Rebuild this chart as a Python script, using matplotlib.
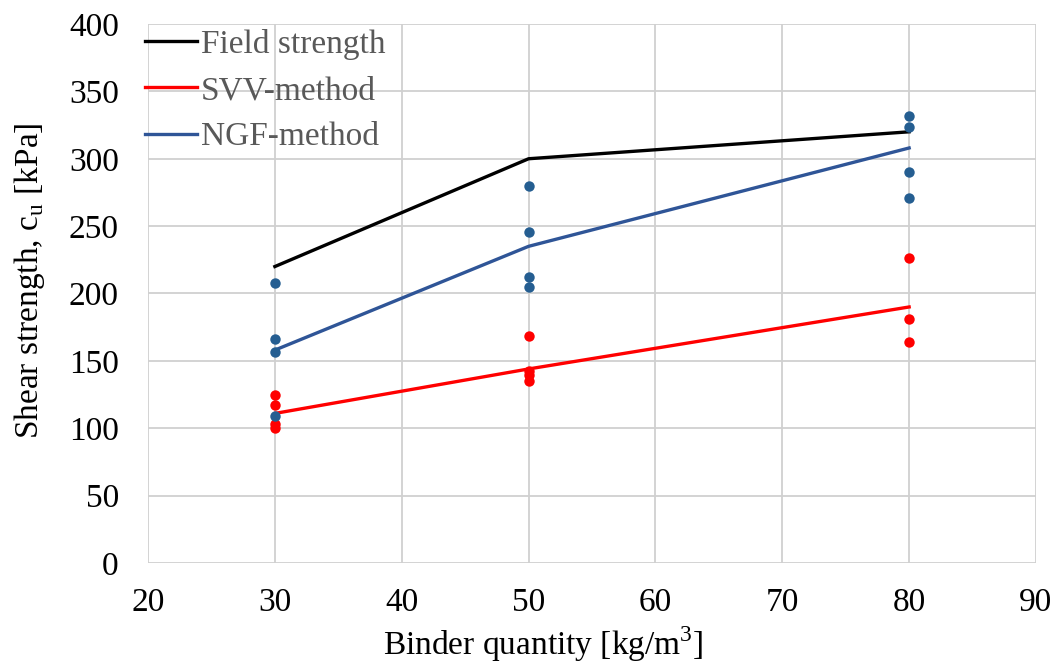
import matplotlib.pyplot as plt

plt.rcParams['font.family'] = ['Liberation Serif', 'DejaVu Serif']
plt.rcParams['mathtext.fontset'] = 'custom'
plt.rcParams['mathtext.rm'] = 'Liberation Serif'

# Mean curves
x_lines = [30, 50, 80]
field_strength = [220, 300, 320]
svv_line = [111, 144, 190]
ngf_line = [158, 235, 308]

# Individual test results
svv_x = [30, 30, 30, 30, 50, 50, 50, 50, 80, 80, 80]
svv_y = [125, 117.5, 103, 100, 168.5, 142.5, 139.5, 135, 226, 181, 164]
ngf_x = [30, 30, 30, 30, 50, 50, 50, 50, 80, 80, 80, 80]
ngf_y = [208, 166, 156.5, 109, 280, 245.5, 212, 205, 332, 323.5, 290, 271]

fig = plt.figure(figsize=(10.58, 6.65), dpi=100)
ax = fig.add_axes([0.1399, 0.1534, 0.8393, 0.8105])

ax.plot(x_lines, field_strength, color='black', lw=2.4, label='Field strength', zorder=3)
ax.plot(x_lines, svv_line, color='#ff0000', lw=2.4, label='SVV-method', zorder=3)
ax.plot(x_lines, ngf_line, color='#2f5597', lw=2.4, label='NGF-method', zorder=3)
ax.plot(svv_x, svv_y, 'o', color='#ff0000', ms=7.5, mec='none', zorder=4)
ax.plot(ngf_x, ngf_y, 'o', color='#255e91', ms=7.5, mec='none', zorder=4)

ax.set_xlim(20, 90)
ax.set_ylim(0, 400)
ax.set_xticks(range(20, 91, 10))
ax.set_yticks(range(0, 401, 50))
ax.grid(True, color='#d0d0d0', lw=1.3)
ax.set_axisbelow(True)
for s in ax.spines.values():
    s.set_visible(False)
ax.tick_params(length=0, labelsize=24)
ax.tick_params(axis='x', pad=18)
ax.tick_params(axis='y', pad=21)

ax.set_xlabel('Binder quantity [kg/m$^\\mathrm{3}$]', fontsize=24, labelpad=4, x=0.445)
ax.set_ylabel('Shear strength, c$_\\mathrm{u}$ [kPa]', fontsize=24, labelpad=16, y=0.523)

ax.legend(loc='upper left', bbox_to_anchor=(145 / 1058, 1 - 29 / 665),
          bbox_transform=fig.transFigure, frameon=False, borderpad=0,
          borderaxespad=0, fontsize=24, handlelength=1.56, handletextpad=0.12,
          labelspacing=0.47, labelcolor='#595959')

fig.savefig('out.png', dpi=100)
